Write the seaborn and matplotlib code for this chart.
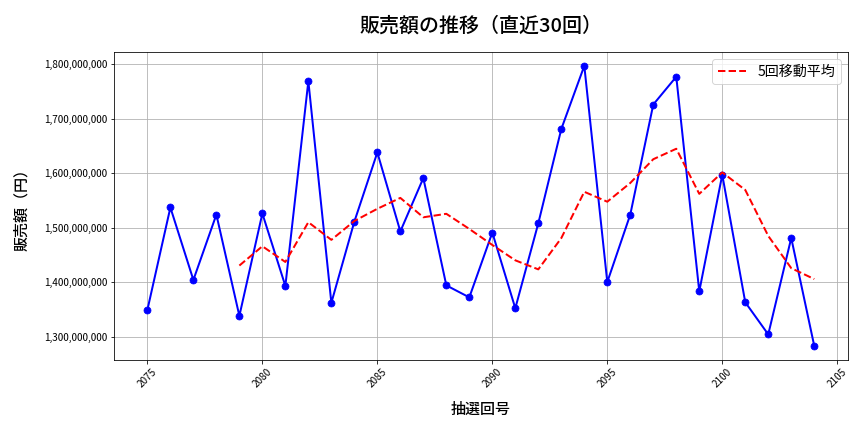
import pandas as pd
import matplotlib
matplotlib.use("Agg")
import matplotlib.pyplot as plt
import matplotlib.ticker as mticker
import seaborn as sns

draw_no = list(range(2075, 2105))
sales = [1349e6, 1537e6, 1404e6, 1524e6, 1338e6, 1526e6, 1393e6, 1769e6, 1362e6, 1511e6,
         1638e6, 1493e6, 1591e6, 1394e6, 1372e6, 1491e6, 1352e6, 1508e6, 1681e6, 1797e6,
         1400e6, 1524e6, 1726e6, 1777e6, 1383e6, 1597e6, 1363e6, 1304e6, 1481e6, 1283e6]

df = pd.DataFrame({'draw': draw_no, 'sales': sales})
df['ma5'] = df['sales'].rolling(5).mean()

plt.rcParams['font.family'] = ['Noto Sans CJK JP', 'DejaVu Sans']

fig, ax = plt.subplots(figsize=(12, 6), dpi=72)
sns.lineplot(data=df, x='draw', y='sales', marker='o', color='blue', linewidth=2,
             markersize=7, markeredgecolor='blue', ax=ax)
sns.lineplot(data=df, x='draw', y='ma5', color='red', linestyle='--', linewidth=2,
             label='5回移動平均', ax=ax)

ax.set_title('販売額の推移（直近30回）', fontsize=20, fontweight='medium', pad=20)
ax.set_xlabel('抽選回号', fontsize=15, fontweight='medium', labelpad=11)
ax.set_ylabel('販売額（円）', fontsize=15, fontweight='medium', labelpad=14)
ax.yaxis.set_major_formatter(mticker.FuncFormatter(lambda v, p: f'{int(v):,}'))
ax.tick_params(axis='x', labelrotation=45)
ax.grid(True)
ax.legend(fontsize=14, loc='upper right')

fig.subplots_adjust(left=0.132, right=0.981, top=0.880, bottom=0.167)
plt.savefig('out.png', dpi=72)
